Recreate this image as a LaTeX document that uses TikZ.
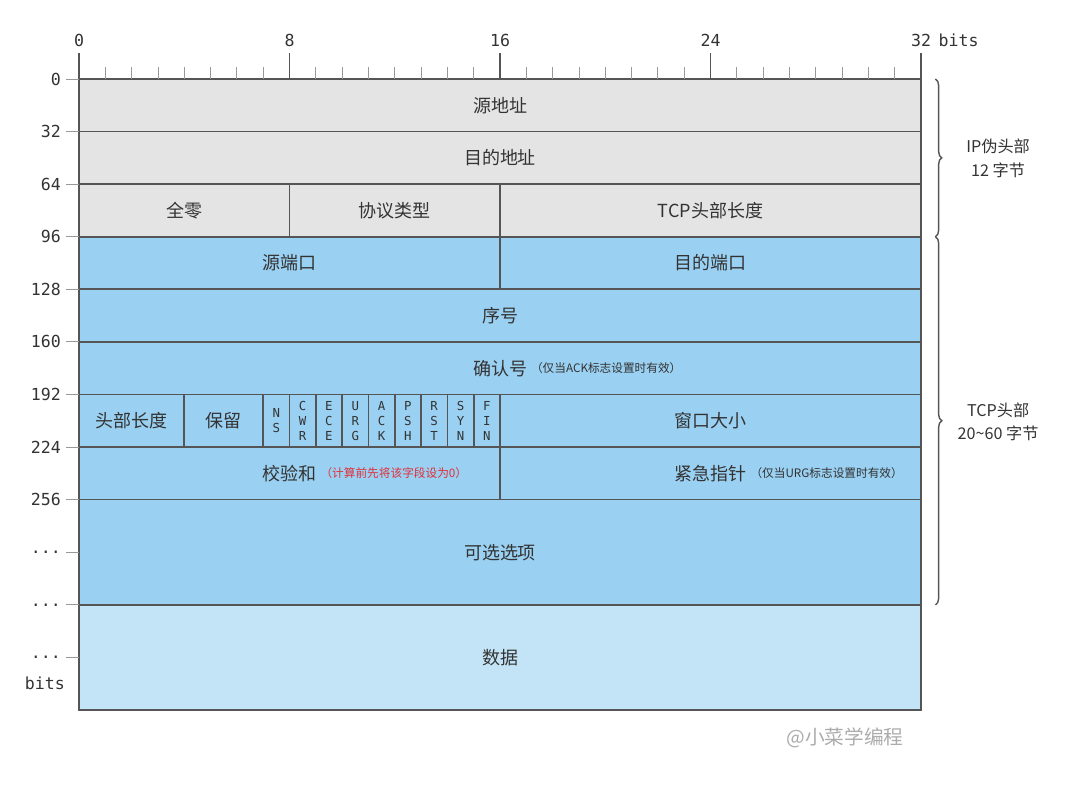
\documentclass[tikz,border=0pt]{standalone}
\usepackage{fontspec}
\setmainfont{Noto Sans CJK SC}
\setmonofont{DejaVu Sans Mono}
\usetikzlibrary{decorations.pathreplacing}
\definecolor{hdrgray}{HTML}{E4E4E4}
\definecolor{tcpblue}{HTML}{9AD0F1}
\definecolor{datablue}{HTML}{C3E4F6}
\definecolor{linegray}{HTML}{555555}
\definecolor{txtgray}{HTML}{333333}
\definecolor{notered}{HTML}{E0303A}
\newcommand\moredots{...}
\tikzset{
  cell/.style={draw=linegray,line width=1.2pt},
  field/.style={text=txtgray,font=\fontsize{12.8}{15}\selectfont,inner sep=2pt},
  flag/.style={text=txtgray,font=\ttfamily\fontsize{8.8}{10.7}\selectfont,align=center,inner sep=0pt},
  note/.style={text=txtgray,font=\fontsize{8.3}{9.5}\selectfont,inner sep=0.5pt},
  rulernum/.style={text=txtgray,font=\ttfamily\fontsize{11.8}{14}\selectfont,inner sep=1.5pt},
  minortick/.style={draw=gray!80,line width=0.6pt},
  majortick/.style={draw=linegray,line width=1.2pt},
  sidebrace/.style={draw=linegray,line width=1pt,decorate,decoration={brace,amplitude=4.5pt}},
  sidelabel/.style={text=txtgray,font=\fontsize{11.5}{17}\selectfont,align=center}
}

\begin{document}
\begin{tikzpicture}[x=0.6578cm,y=-1.3145cm]
    \useasboundingbox (-3.0024,-1.5025) rectangle (38.043,13.522);
    % header cells
    \foreach \xa/\ya/\xb/\yb/\col/\nm/\txt in {
      0/0/32/1/hdrgray/srcip/源地址,
      0/1/32/2/hdrgray/dstip/目的地址,
      0/2/8/3/hdrgray/zero/全零,
      8/2/16/3/hdrgray/proto/协议类型,
      16/2/32/3/hdrgray/tcplen/TCP头部长度,
      0/3/16/4/tcpblue/sport/源端口,
      16/3/32/4/tcpblue/dport/目的端口,
      0/4/32/5/tcpblue/seq/序号,
      0/5/32/6/tcpblue/ackno/确认号,
      0/6/4/7/tcpblue/hlen/头部长度,
      4/6/7/7/tcpblue/rsv/保留,
      16/6/32/7/tcpblue/win/窗口大小,
      0/7/16/8/tcpblue/csum/校验和,
      16/7/32/8/tcpblue/urgp/紧急指针,
      0/8/32/10/tcpblue/opt/可选选项,
      0/10/32/12/datablue/data/数据}
    {
      \draw[cell,fill=\col] (\xa,\ya) rectangle (\xb,\yb);
      \node[field] (\nm) at ({(\xa+\xb)/2},{(\ya+\yb)/2}) {\txt};
    }
    % flag bits
    \foreach \b/\nm/\txt in {7/ns/{N\\S},8/cwr/{C\\W\\R},9/ece/{E\\C\\E},
      10/urg/{U\\R\\G},11/ack/{A\\C\\K},12/psh/{P\\S\\H},
      13/rst/{R\\S\\T},14/syn/{S\\Y\\N},15/fin/{F\\I\\N}}
    {
      \draw[cell,fill=tcpblue] (\b,6) rectangle (\b+1,7);
      \node[flag] (\nm) at (\b+0.5,6.5) {\txt};
    }
    % remarks
    \node[note,anchor=west] (acknote) at (ackno.east) {（仅当ACK标志设置时有效）};
    \node[note,anchor=west,text=notered] (csumnote) at (csum.east) {（计算前先将该字段设为0）};
    \node[note,anchor=west] (urgnote) at (urgp.east) {（仅当URG标志设置时有效）};
    % top ruler
    \foreach \b in {1,...,31}
      \draw[minortick] (\b,0) -- (\b,-0.228);
    \foreach \b in {0,8,16,24,32}
    {
      \draw[majortick] (\b,0) -- (\b,-0.494);
      \node[rulernum] (top\b) at (\b,-0.742) {\b};
    }
    \node[rulernum,anchor=west] (topbits) at ([xshift=2pt]top32.east) {bits};
    % left ruler
    \foreach \r/\txt in {0/0,1/32,2/64,3/96,4/128,5/160,6/192,7/224,8/256,9/\moredots,10/\moredots,11/\moredots}
    {
      \draw[minortick] (-0.494,\r) -- (0,\r);
      \node[rulernum,anchor=east] (row\r) at (-0.6,\r) {\txt};
    }
    \node[rulernum,anchor=east] (rowbits) at (-0.45,11.5) {bits};
    % braces
    \draw[sidebrace] (32.55,0) -- (32.55,3);
    \draw[sidebrace] (32.55,3) -- (32.55,10);
    \node[sidelabel] (iplbl) at (34.93,1.5) {IP伪头部\\12 字节};
    \node[sidelabel] (tcplbl) at (34.93,6.52) {TCP头部\\20\textasciitilde60 字节};
    \node[text=gray!65,font=\fontsize{14}{16}\selectfont] (mark) at (29.11,12.53) {@小菜学编程};
  \end{tikzpicture}
\end{document}
